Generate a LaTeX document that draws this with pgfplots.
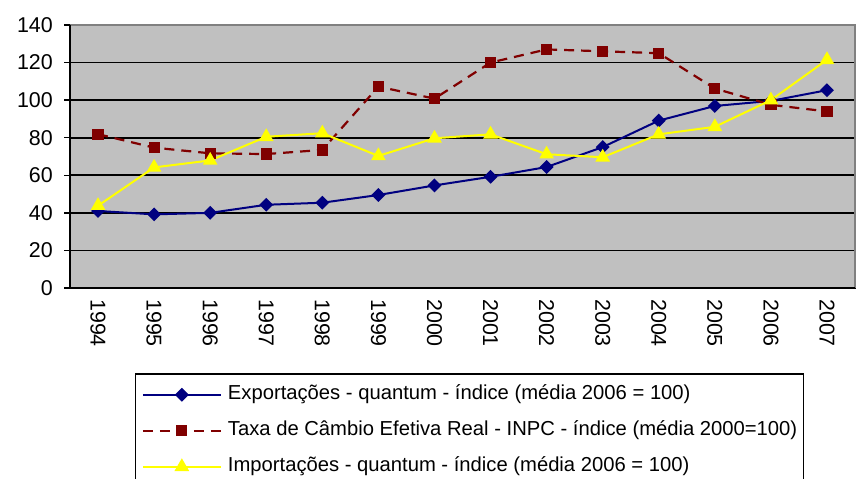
\documentclass[border=0pt]{standalone}
\usepackage{pgfplots}
\pgfplotsset{compat=1.18}
\usepackage{fontspec}
\setmainfont{Liberation Sans}
\definecolor{bgray}{RGB}{192,192,192}
\definecolor{navyc}{RGB}{0,0,128}
\definecolor{maroonc}{RGB}{128,0,0}
\definecolor{yelc}{RGB}{255,255,0}
\definecolor{framec}{RGB}{128,128,128}

\begin{document}
\begin{tikzpicture}
\begin{axis}[
  at={(70bp,191bp)}, anchor=south west,
  scale only axis, width=785bp, height=263bp,
  xmin=-0.5, xmax=13.5, ymin=0, ymax=140,
  ytick={0,20,...,140},
  xtick={0,...,13},
  xticklabels={1994,1995,1996,1997,1998,1999,2000,2001,2002,2003,2004,2005,2006,2007},
  major x tick style={draw=none},
  extra x ticks={-0.5,0.5,1.5,2.5,3.5,4.5,5.5,6.5,7.5,8.5,9.5,10.5,11.5,12.5,13.5},
  extra x tick labels={},
  extra x tick style={major tick length=6bp, tick align=outside, major tick style={draw=black, line width=1.5bp}},
  tick align=outside,
  major tick length=6bp,
  major y tick style={draw=black, line width=1.5bp},
  minor tick num=0,
  ymajorgrids,
  grid style={black, line width=1.8bp},
  axis line style={draw=none},
  axis background/.style={fill=bgray},
  /pgf/number format/assume math mode=true,
  tick label style={font=\fontsize{21.5}{24}\selectfont},
  yticklabel style={anchor=east, inner sep=0pt, xshift=-11bp},
  xticklabel style={rotate=-90, anchor=west, inner sep=0pt, xshift=0bp, yshift=0bp},
  xticklabel shift=5bp,
  legend cell align=left,
  legend style={
    at={(0.0828,-0.3232)}, anchor=north west,
    draw=black, line width=1.5bp, fill=white,
    font=\fontsize{20.3}{22}\selectfont,
    inner xsep=6bp, inner ysep=12bp,
    row sep=18bp, column sep=6bp,
    nodes={inner sep=0pt, text height=14bp, text depth=4bp},
  },
  legend image code/.code={\draw[mark repeat=2,mark phase=2,#1] plot coordinates {(0bp,0bp) (39bp,0bp) (78bp,0bp)};},
  clip=false,
]
\addplot[navyc, line width=2bp, mark=square*, mark size=3.9bp, mark options={rotate=45, solid, fill=navyc, draw=navyc}]
  coordinates {(0,41) (1,39.2) (2,40) (3,44.3) (4,45.4) (5,49.5) (6,54.6) (7,59.2) (8,64.4) (9,75) (10,89.1) (11,96.9) (12,99.6) (13,105.3)};
\addlegendentry{Exportações - quantum - índice (média 2006 = 100)}
\addplot[maroonc, line width=2.2bp, dash pattern=on 10bp off 7bp, mark=square*, mark size=4.5bp, mark options={solid, fill=maroonc, draw=maroonc}]
  coordinates {(0,81.9) (1,74.7) (2,71.7) (3,71.3) (4,73.5) (5,107.2) (6,100.8) (7,120) (8,127) (9,126) (10,125) (11,106.2) (12,97.5) (13,94)};
\addlegendentry{Taxa de Câmbio Efetiva Real - INPC - índice (média 2000=100)}
\addplot[yelc, line width=2bp, mark=triangle*, mark size=6.5bp, mark options={solid, fill=yelc, draw=yelc}]
  coordinates {(0,43.8) (1,64.2) (2,67.9) (3,80.5) (4,82.4) (5,70.3) (6,79.7) (7,81.8) (8,71.2) (9,69.6) (10,81.8) (11,85.8) (12,100) (13,121.5)};
\addlegendentry{Importações - quantum - índice (média 2006 = 100)}
\draw[framec, line width=1.5bp] (rel axis cs:0,1) -- (rel axis cs:1,1) -- (rel axis cs:1,0);
\draw[black, line width=2bp] (rel axis cs:0,1) -- (rel axis cs:0,0) -- (rel axis cs:1,0);
\end{axis}
\pgfresetboundingbox
\useasboundingbox (0,0) rectangle (856bp,479bp);
\end{tikzpicture}
\end{document}
